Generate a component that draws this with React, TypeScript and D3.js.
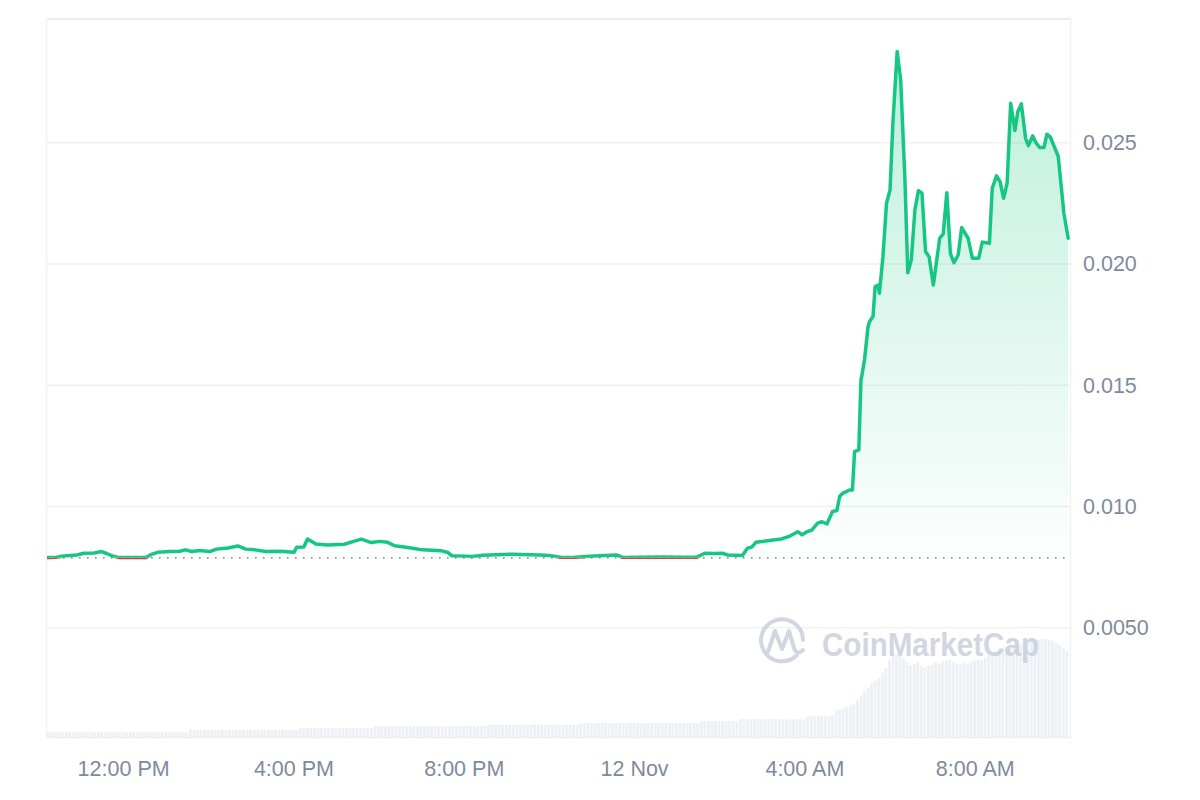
import React from "react";
import * as d3 from "d3";

// ---------- data ----------
const yTicks: number[] = [0.005, 0.01, 0.015, 0.02, 0.025];
const yTickLabels: string[] = ["0.0050", "0.010", "0.015", "0.020", "0.025"];
const xTicks: string[] = ["11-11 12:00", "11-11 16:00", "11-11 20:00", "11-12 00:00", "11-12 04:00", "11-12 08:00"];
const xTickLabels: string[] = ["12:00 PM", "4:00 PM", "8:00 PM", "12 Nov", "4:00 AM", "8:00 AM"];
const timeDomain: string[] = ["11-11 10:12", "11-12 10:15"];
const openPrice = 0.00788;

const priceSeries: [string, number][] = [
  ["11-11 10:12", 0.00789], ["11-11 10:24", 0.0079], ["11-11 10:35", 0.00796], ["11-11 10:54", 0.0080],
  ["11-11 11:04", 0.00807], ["11-11 11:19", 0.00808], ["11-11 11:29", 0.00814], ["11-11 11:36", 0.00806],
  ["11-11 11:44", 0.00796], ["11-11 11:54", 0.00789], ["11-11 12:04", 0.0079], ["11-11 12:15", 0.00789],
  ["11-11 12:31", 0.00789], ["11-11 12:39", 0.00802], ["11-11 12:48", 0.00811], ["11-11 13:05", 0.00814],
  ["11-11 13:19", 0.00815], ["11-11 13:27", 0.00821], ["11-11 13:36", 0.00814], ["11-11 13:47", 0.00818],
  ["11-11 14:01", 0.00814], ["11-11 14:11", 0.00824], ["11-11 14:27", 0.00829], ["11-11 14:41", 0.00837],
  ["11-11 14:52", 0.00824], ["11-11 15:05", 0.00821], ["11-11 15:21", 0.00814], ["11-11 15:40", 0.00815],
  ["11-11 16:00", 0.00811], ["11-11 16:04", 0.00832], ["11-11 16:14", 0.00833], ["11-11 16:19", 0.00866],
  ["11-11 16:31", 0.00845], ["11-11 16:47", 0.00841], ["11-11 17:11", 0.00844], ["11-11 17:23", 0.00855],
  ["11-11 17:35", 0.00865], ["11-11 17:49", 0.00851], ["11-11 18:01", 0.00856], ["11-11 18:12", 0.00852],
  ["11-11 18:22", 0.00838], ["11-11 18:43", 0.0083], ["11-11 19:01", 0.00821], ["11-11 19:28", 0.00817],
  ["11-11 19:37", 0.0081], ["11-11 19:42", 0.00797], ["11-11 20:12", 0.00794], ["11-11 20:26", 0.00799],
  ["11-11 21:08", 0.00803], ["11-11 21:46", 0.0080], ["11-11 22:00", 0.00798], ["11-11 22:17", 0.0079],
  ["11-11 22:36", 0.00791], ["11-11 22:57", 0.00795], ["11-11 23:18", 0.00798], ["11-11 23:35", 0.0080],
  ["11-11 23:43", 0.0079], ["11-12 00:07", 0.00791], ["11-12 00:40", 0.00792], ["11-12 01:04", 0.00791],
  ["11-12 01:28", 0.00791], ["11-12 01:39", 0.00807], ["11-12 01:53", 0.00806], ["11-12 02:04", 0.00807],
  ["11-12 02:11", 0.0080], ["11-12 02:32", 0.00798], ["11-12 02:39", 0.00828], ["11-12 02:45", 0.00832],
  ["11-12 02:51", 0.00852], ["11-12 03:15", 0.00862], ["11-12 03:27", 0.00866], ["11-12 03:39", 0.00878],
  ["11-12 03:50", 0.00896], ["11-12 03:56", 0.00883], ["11-12 04:03", 0.00896], ["11-12 04:10", 0.00903],
  ["11-12 04:18", 0.00931], ["11-12 04:24", 0.00937], ["11-12 04:31", 0.00928], ["11-12 04:39", 0.00979],
  ["11-12 04:45", 0.00983], ["11-12 04:49", 0.01041], ["11-12 04:53", 0.01054], ["11-12 05:03", 0.01068],
  ["11-12 05:07", 0.01068], ["11-12 05:10", 0.01226], ["11-12 05:16", 0.01233], ["11-12 05:19", 0.01522],
  ["11-12 05:20", 0.01535], ["11-12 05:24", 0.01604], ["11-12 05:29", 0.01741], ["11-12 05:31", 0.01762],
  ["11-12 05:36", 0.01783], ["11-12 05:39", 0.01906], ["11-12 05:43", 0.01913], ["11-12 05:45", 0.01879],
  ["11-12 05:50", 0.0203], ["11-12 05:55", 0.0225], ["11-12 06:00", 0.02305], ["11-12 06:04", 0.0258],
  ["11-12 06:10", 0.02876], ["11-12 06:15", 0.02759], ["11-12 06:21", 0.02346], ["11-12 06:25", 0.01964],
  ["11-12 06:30", 0.02017], ["11-12 06:35", 0.02223], ["11-12 06:40", 0.02302], ["11-12 06:45", 0.02292],
  ["11-12 06:50", 0.02051], ["11-12 06:55", 0.0203], ["11-12 07:01", 0.01913], ["11-12 07:10", 0.02106],
  ["11-12 07:15", 0.02124], ["11-12 07:20", 0.02294], ["11-12 07:25", 0.02044], ["11-12 07:30", 0.02005],
  ["11-12 07:36", 0.02037], ["11-12 07:41", 0.0215], ["11-12 07:50", 0.02106], ["11-12 07:56", 0.02024],
  ["11-12 08:05", 0.02024], ["11-12 08:10", 0.0209], ["11-12 08:20", 0.02085], ["11-12 08:24", 0.02312],
  ["11-12 08:30", 0.02363], ["11-12 08:35", 0.02339], ["11-12 08:40", 0.02271], ["11-12 08:45", 0.02333],
  ["11-12 08:50", 0.02663], ["11-12 08:56", 0.0255], ["11-12 09:00", 0.02628], ["11-12 09:05", 0.0266],
  ["11-12 09:11", 0.02518], ["11-12 09:15", 0.02488], ["11-12 09:21", 0.02528], ["11-12 09:26", 0.02498],
  ["11-12 09:31", 0.0248], ["11-12 09:37", 0.0248], ["11-12 09:41", 0.02535], ["11-12 09:46", 0.02523],
  ["11-12 09:57", 0.02443], ["11-12 10:05", 0.02209], ["11-12 10:11", 0.02106],
];

// 5-minute volume bars (relative units)
const volumeStart = "11-11 10:12";
const volumeSeries: number[] = [
  5, 5, 5, 5, 5, 5, 5, 5, 5, 5, 5, 5,
  5, 5, 5, 5, 5, 5, 5, 5, 5, 5, 5, 5,
  5, 5, 5, 5, 5, 5, 5, 5, 5, 5, 5, 5,
  5, 5, 5, 5, 7, 7, 7, 7, 7, 7, 7, 7,
  7, 7, 7, 7, 7, 7, 7, 7, 7, 7, 7, 7,
  7, 7, 7, 7, 7, 7, 7, 7, 7, 7, 7, 9,
  9, 9, 9, 9, 9, 9, 9, 9, 9, 9, 9, 9,
  9, 9, 9, 9, 9, 9, 9, 9, 11, 11, 11, 11,
  11, 11, 11, 11, 11, 11, 11, 11, 11, 11, 11, 11,
  11, 11, 11, 11, 11, 11, 11, 11, 11, 11, 11, 11,
  11, 11, 11, 11, 12.5, 12.5, 12.5, 12.5, 12.5, 12.5, 12.5, 12.5,
  12.5, 12.5, 12.5, 12.5, 12.5, 12.5, 12.5, 12.5, 12.5, 12.5, 12.5, 12.5,
  12.5, 12.5, 12.5, 12.5, 12.5, 12.5, 14, 14, 14, 14, 14, 14,
  14, 14, 14, 14, 14, 14, 14, 14, 14, 14, 14, 14,
  14, 14, 14, 14, 14, 14, 14, 14, 14, 14, 14, 14,
  14, 14, 14, 14, 16, 16, 16, 16, 16, 16, 16, 16,
  16, 16, 16, 18, 18, 18, 18, 18, 18, 18, 18, 18,
  18, 18, 18, 18, 18, 18, 18, 18, 18, 18, 21, 21,
  21, 21, 21, 21, 21, 22, 27, 28, 29, 31, 32, 34,
  38, 42, 46, 50, 54, 57, 60, 65, 70, 78, 87, 84,
  82, 80, 76, 72, 74, 76, 72, 70, 72, 73, 75, 74,
  76, 77, 78, 76, 74, 73, 75, 74, 76, 77, 78, 77,
  80, 83, 85, 84, 87, 90, 91, 90, 92, 94, 93, 95,
  96, 97, 97, 98, 99, 99, 98, 97, 95, 93, 90, 87,
];

// ---------- layout ----------
const W = 1200;
const H = 800;
const left = 47;
const right = 1071;
const top = 19;
const bottom = 737;

const GREEN = "#16c784";
const RED = "#ea3943";
const TEXT = "#808a9d";
const FONT = "'Liberation Sans', Arial, Helvetica, sans-serif";

const parse = d3.timeParse("%m-%d %H:%M");

export default function App() {
  const x = d3
    .scaleTime()
    .domain(timeDomain.map((s) => parse(s) as Date))
    .range([left, right]);
  const y = d3.scaleLinear().domain([0.005, 0.025]).range([627.7, 142.7]);
  const vol = d3.scaleLinear().domain([0, 100]).range([bottom, bottom - 99]);

  const pts = priceSeries.map(([t, v]) => ({ t: parse(t) as Date, v }));
  const baseY = y(openPrice);

  const line = d3
    .line<{ t: Date; v: number }>()
    .x((d) => x(d.t))
    .y((d) => y(d.v))
    .curve(d3.curveLinear);
  const area = d3
    .area<{ t: Date; v: number }>()
    .x((d) => x(d.t))
    .y0(baseY)
    .y1((d) => y(d.v))
    .curve(d3.curveLinear);

  const v0 = parse(volumeStart) as Date;
  const bars = volumeSeries.map((v, i) => {
    const t1 = d3.timeMinute.offset(v0, i * 5);
    const t2 = d3.timeMinute.offset(v0, (i + 1) * 5);
    return { x1: x(t1), x2: x(t2), v };
  });

  return (
    <svg
      width={W}
      height={H}
      style={{ position: "absolute", left: 0, top: 0, background: "#fff" }}
      fontFamily={FONT}
    >
      <defs>
        <clipPath id="plot">
          <rect x={left} y={top} width={right - left} height={bottom - top} />
        </clipPath>
        <clipPath id="above">
          <rect x={left} y={0} width={right - left} height={baseY} />
        </clipPath>
        <clipPath id="below">
          <rect x={left} y={baseY} width={right - left} height={H - baseY} />
        </clipPath>
        <linearGradient id="greenFill" gradientUnits="userSpaceOnUse" x1="0" y1={top} x2="0" y2={baseY}>
          <stop offset="0%" stopColor={GREEN} stopOpacity={0.3} />
          <stop offset="100%" stopColor={GREEN} stopOpacity={0.01} />
        </linearGradient>
      </defs>

      {/* frame */}
      <line x1={left} x2={right} y1={top} y2={top} stroke="#e4e6ea" strokeWidth={1.5} />
      <line x1={left - 0.5} x2={left - 0.5} y1={top} y2={bottom} stroke="#f1f2f4" strokeWidth={1.5} />
      <line x1={right - 0.5} x2={right - 0.5} y1={top} y2={bottom} stroke="#eff1f4" strokeWidth={1.5} />

      {/* grid */}
      {yTicks.map((t) => (
        <line key={t} x1={left} x2={right} y1={y(t)} y2={y(t)} stroke="#eff1f4" strokeWidth={1.5} />
      ))}

      {/* volume */}
      <g clipPath="url(#plot)">
        {bars.map((b, i) => (
          <rect
            key={i}
            x={b.x1}
            y={vol(b.v)}
            width={Math.max(0.5, b.x2 - b.x1 - 0.7)}
            height={bottom - vol(b.v)}
            fill="#edf0f4"
          />
        ))}
      </g>
      <line x1={left} x2={right} y1={bottom + 0.5} y2={bottom + 0.5} stroke="#eceef2" strokeWidth={1.5} />

      {/* watermark */}
      <g opacity={0.85}>
        <path
          d="M 797 655 A 21 21 0 1 1 803 640"
          fill="none"
          stroke="#c9d0dc"
          strokeWidth={4}
          strokeLinecap="round"
        />
        <path
          d="M 768 652 L 775 631 L 782 649 L 789 631 L 794 648 Q 797 656 803 650"
          fill="none"
          stroke="#c9d0dc"
          strokeWidth={4}
          strokeLinecap="round"
          strokeLinejoin="round"
        />
        <text
          x={822}
          y={656}
          fontSize={33}
          fontWeight={700}
          fill="#c9d0dc"
          textLength={217}
          lengthAdjust="spacingAndGlyphs"
        >
          CoinMarketCap
        </text>
      </g>

      {/* price area and line */}
      <g clipPath="url(#plot)">
        <path d={area(pts) || ""} fill="url(#greenFill)" clipPath="url(#above)" />
        <line
          x1={left}
          x2={right}
          y1={baseY}
          y2={baseY}
          stroke="#8f98a8"
          strokeWidth={1.6}
          strokeDasharray="1.6 6.4"
        />
        <g clipPath="url(#below)">
          <path d={line(pts) || ""} fill="none" stroke={RED} strokeWidth={3.5} strokeLinejoin="round" strokeLinecap="round" />
        </g>
        <g clipPath="url(#above)">
          <path d={line(pts) || ""} fill="none" stroke={GREEN} strokeWidth={3.5} strokeLinejoin="round" strokeLinecap="round" />
        </g>
      </g>

      {/* y labels */}
      {yTicks.map((t, i) => (
        <text key={t} x={1083} y={y(t) + 7.5} fontSize={21.5} fill={TEXT}>
          {yTickLabels[i]}
        </text>
      ))}

      {/* x labels */}
      {xTicks.map((t, i) => (
        <text key={t} x={x(parse(t) as Date)} y={776} fontSize={21.5} fill={TEXT} textAnchor="middle">
          {xTickLabels[i]}
        </text>
      ))}
    </svg>
  );
}
